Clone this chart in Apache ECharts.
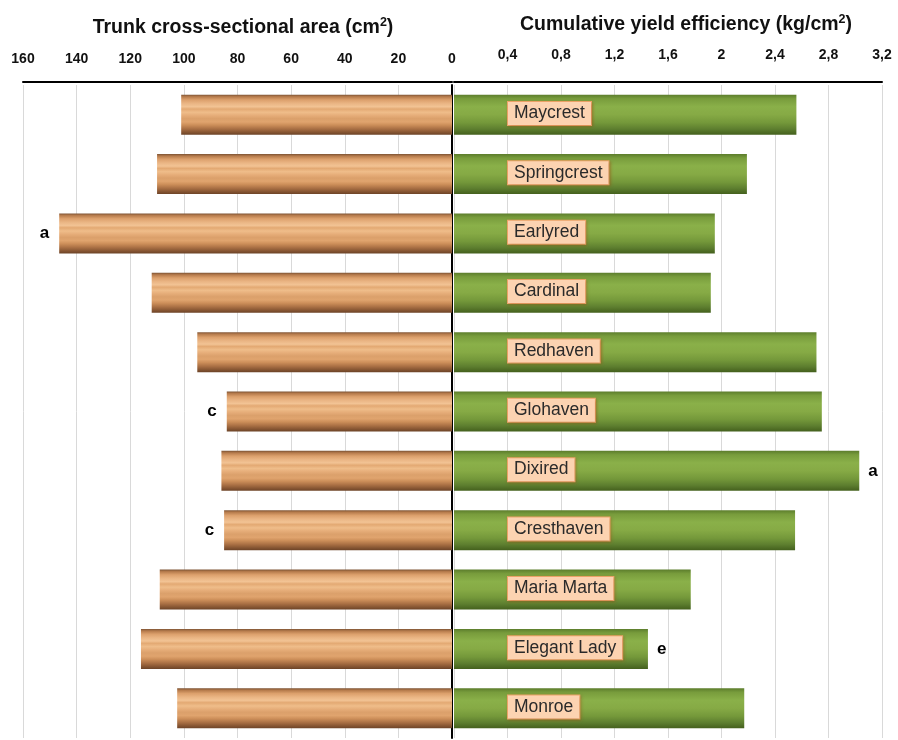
<!DOCTYPE html>
<html>
<head>
<meta charset="utf-8">
<script src="https://cdn.jsdelivr.net/npm/echarts@6/dist/echarts.min.js"></script>
<style>
html,body{margin:0;padding:0;background:#fff;}
#chart{width:898px;height:740px;}
</style>
</head>
<body>
<div id="chart"></div>
<script>
// ---- data ----
var categories = ['Maycrest','Springcrest','Earlyred','Cardinal','Redhaven','Glohaven','Dixired','Cresthaven','Maria Marta','Elegant Lady','Monroe'];
var trunkArea = [101, 110, 146.5, 112, 95, 84, 86, 85, 109, 116, 102.5];
var yieldEff = [2.56, 2.19, 1.95, 1.92, 2.71, 2.75, 3.03, 2.55, 1.77, 1.45, 2.17];
var leftLetters = [['Earlyred','a'],['Glohaven','c'],['Cresthaven','c']];
var rightLetters = [['Dixired','a'],['Elegant Lady','e']];
var leftTickLabels = ['0','20','40','60','80','100','120','140','160'];
var rightTickLabels = ['','0,4','0,8','1,2','1,6','2','2,4','2,8','3,2'];

var leftTitle = ['Trunk cross-sectional area (cm', '2', ')'];
var rightTitle = ['Cumulative yield efficiency (kg/cm', '2', ')'];

// ---- styles ----
var wood = new echarts.graphic.LinearGradient(0,0,0,1,[
  {offset:0, color:'#7d5334'},
  {offset:0.05, color:'#b67b4c'},
  {offset:0.13, color:'#dca06c'},
  {offset:0.22, color:'#eab584'},
  {offset:0.30, color:'#f2c394'},
  {offset:0.36, color:'#e3a973'},
  {offset:0.44, color:'#efbd8a'},
  {offset:0.52, color:'#e6ad79'},
  {offset:0.60, color:'#dba06b'},
  {offset:0.68, color:'#e0a46e'},
  {offset:0.76, color:'#cc8e59'},
  {offset:0.85, color:'#ab7145'},
  {offset:0.93, color:'#8a5834'},
  {offset:1, color:'#6c4327'}
]);
var green = new echarts.graphic.LinearGradient(0,0,0,1,[
  {offset:0, color:'#5c7d2c'},
  {offset:0.1, color:'#789c3c'},
  {offset:0.3, color:'#8ab049'},
  {offset:0.5, color:'#86aa45'},
  {offset:0.7, color:'#74983a'},
  {offset:0.86, color:'#5d7e2f'},
  {offset:1, color:'#44601d'}
]);
var FONT = '"Liberation Sans", Arial, sans-serif';
var gridColor = '#d9d9d9';

var chart = echarts.init(document.getElementById('chart'), null, {renderer:'canvas'});

var titleRich = {
  b: {fontFamily: FONT, fontSize: 19.5, fontWeight: 'bold', color: '#111', lineHeight: 24},
  sup: {fontFamily: FONT, fontSize: 12.5, fontWeight: 'bold', color: '#111', verticalAlign: 'top', lineHeight: 24, padding:[0,0,7,0]}
};
function richTitle(p){ return '{b|' + p[0] + '}{sup|' + p[1] + '}{b|' + p[2] + '}'; }

var option = {
  backgroundColor: '#fff',
  animation: false,
  title: [
    {text: richTitle(leftTitle), left: 238, top: 11, textAlign: 'center', textStyle: {rich: titleRich}},
    {text: richTitle(rightTitle), left: 681, top: 8, textAlign: 'center', textStyle: {rich: titleRich}}
  ],
  grid: [
    {left: 23, width: 429, top: 85, height: 653},
    {left: 454, width: 428, top: 85, height: 653}
  ],
  xAxis: [
    {gridIndex: 0, type: 'value', min: 0, max: 160, interval: 20, inverse: true, position: 'top', offset: 3,
     axisLine: {show: true, lineStyle: {color: '#000', width: 2}},
     axisTick: {show: false},
     splitLine: {show: true, lineStyle: {color: gridColor, width: 1}},
     axisLabel: {margin: 16, fontFamily: FONT, fontSize: 14, fontWeight: 'bold', color: '#111',
       formatter: function(v){ return leftTickLabels[Math.round(v/20)]; }}},
    {gridIndex: 1, type: 'value', min: 0, max: 3.2, interval: 0.4, position: 'top', offset: 3,
     axisLine: {show: true, lineStyle: {color: '#000', width: 2}},
     axisTick: {show: false},
     splitLine: {show: true, lineStyle: {color: gridColor, width: 1}},
     axisLabel: {margin: 20, fontFamily: FONT, fontSize: 14, fontWeight: 'bold', color: '#111',
       formatter: function(v){ return rightTickLabels[Math.round(v/0.4)]; }}}
  ],
  yAxis: [
    {gridIndex: 0, type: 'category', data: categories, inverse: true, position: 'right',
     axisLine: {show: true, onZero: false, lineStyle: {color: '#000', width: 2}},
     axisTick: {show: false}, axisLabel: {show: false}, splitLine: {show: false}},
    {gridIndex: 1, type: 'category', data: categories, inverse: true, position: 'left',
     axisLine: {show: false}, axisTick: {show: false}, axisLabel: {show: false}, splitLine: {show: false}}
  ],
  series: [
    {type: 'bar', xAxisIndex: 0, yAxisIndex: 0, data: trunkArea, barWidth: 40,
     itemStyle: {color: wood}, z: 2},
    {type: 'bar', xAxisIndex: 1, yAxisIndex: 1, data: yieldEff, barWidth: 40,
     itemStyle: {color: green}, z: 2,
     label: {show: true, formatter: '{b}', position: [54, '47%'], align: 'left', verticalAlign: 'middle',
       fontFamily: FONT, fontSize: 17.5, color: '#2a2a2a',
       backgroundColor: '#fcd3b1', borderColor: '#eea56a', borderWidth: 1,
       padding: [3, 6, 2, 6],
       shadowColor: 'rgba(150,80,20,0.45)', shadowBlur: 3, shadowOffsetX: 1, shadowOffsetY: 1}},
    {type: 'scatter', xAxisIndex: 0, yAxisIndex: 0, symbolSize: 0, z: 5, silent: true,
     data: leftLetters.map(function(d){ return {value: [trunkArea[categories.indexOf(d[0])], d[0]], name: d[1]}; }),
     label: {show: true, position: 'left', distance: 10, formatter: '{b}', opacity: 1,
       fontFamily: FONT, fontSize: 17, fontWeight: 'bold', color: '#000'}},
    {type: 'scatter', xAxisIndex: 1, yAxisIndex: 1, symbolSize: 0, z: 5, silent: true,
     data: rightLetters.map(function(d){ return {value: [yieldEff[categories.indexOf(d[0])], d[0]], name: d[1]}; }),
     label: {show: true, position: 'right', distance: 9, formatter: '{b}', opacity: 1,
       fontFamily: FONT, fontSize: 17, fontWeight: 'bold', color: '#000'}}
  ]
};
chart.setOption(option);
</script>
</body>
</html>
